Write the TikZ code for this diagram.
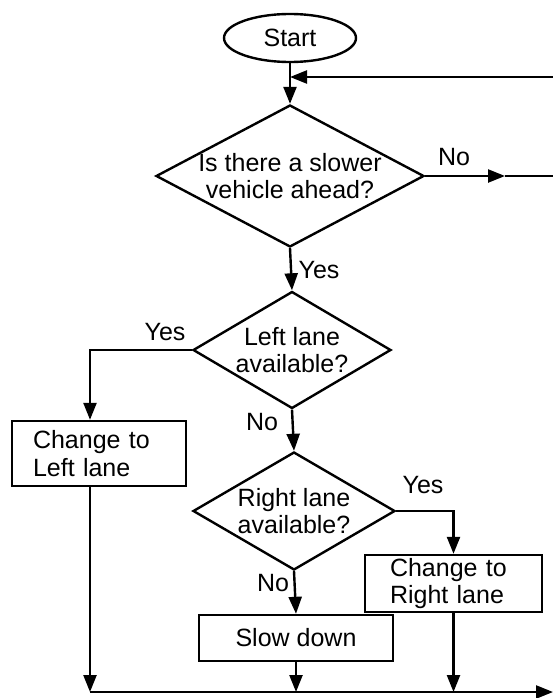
\documentclass[tikz,border=0pt]{standalone}
\usepackage{fontspec}
\setmainfont{Liberation Sans}
\usetikzlibrary{shapes.geometric,arrows.meta}
\begin{document}
\begin{tikzpicture}[x=1pt,y=-1pt,
  every node/.style={font=\fontsize{25}{27.5}\selectfont},
  lw/.style={line width=2.4pt},
  arr/.style={lw,-{Triangle[length=17pt,width=13pt]}},
  term/.style={ellipse,draw,lw,inner sep=0pt,minimum width=132pt,minimum height=48pt},
  dec/.style={diamond,draw,lw,inner sep=0pt},
  dtext/.style={align=center,inner sep=0pt},
  proc/.style={rectangle,draw,lw,inner sep=0pt}]
\useasboundingbox (0,0) rectangle (553,698);

\node[term] (start) at (290,38) {Start};
\node[dec,minimum width=268pt,minimum height=142pt] (d1) at (290,176) {};
\node[dtext] (t1) at (d1.center) {Is there a slower\\vehicle ahead?};
\node[dec,minimum width=198pt,minimum height=117pt] (d2) at (292,350) {};
\node[dtext] (t2) at (d2.center) {Left lane\\available?};
\node[dec,minimum width=202pt,minimum height=118pt] (d3) at (294,511) {};
\node[dtext] (t3) at (d3.center) {Right lane\\available?};
\node[proc,minimum width=174pt,minimum height=65pt,text width=132pt,inner xsep=21pt,align=left] (lbox) at (99,453.5) {Change to\\Left lane};
\node[proc,minimum width=177pt,minimum height=57pt,text width=127pt,inner xsep=25pt,align=left] (rbox) at (453.5,583.5) {Change to\\Right lane};
\node[proc,minimum width=194pt,minimum height=46pt] (slow) at (296,638) {Slow down};

% labels
\node (no1) at (454,157) {No};
\node (yes1) at (319,270) {Yes};
\node (yes2) at (165,332) {Yes};
\node (no2) at (262,422) {No};
\node (yes3) at (423,485) {Yes};
\node (no3) at (273,583) {No};

% coordinates
\coordinate (fbR) at (553,77);
\coordinate (fbJ) at (start.south |- fbR);
\coordinate (noArr) at (505,176);
\coordinate (noEnd) at (553,176);
\coordinate (bL) at (90,692);
\coordinate (bR) at (553,692);

% connectors
\draw[arr] (start.south) -- (d1.north);
\draw[arr] (fbR) -- (fbJ);
\draw[arr] (d1.east) -- (noArr);
\draw[lw] (noArr) -- (noEnd);
\draw[arr] (d1.south) -- (d2.north);
\draw[arr] (d2.west) -| ([xshift=-9pt]lbox.north);
\draw[arr] (d2.south) -- (d3.north);
\draw[arr] (d3.east) -| (rbox.north);
\draw[arr] (d3.south) -- (slow.north);
\draw[arr] ([xshift=-9pt]lbox.south) -- (bL);
\draw[arr] (slow.south) -- (slow.south |- bL);
\draw[arr] (rbox.south) -- (rbox.south |- bL);
\draw[arr] (bL) -- (bR);
\end{tikzpicture}
\end{document}
